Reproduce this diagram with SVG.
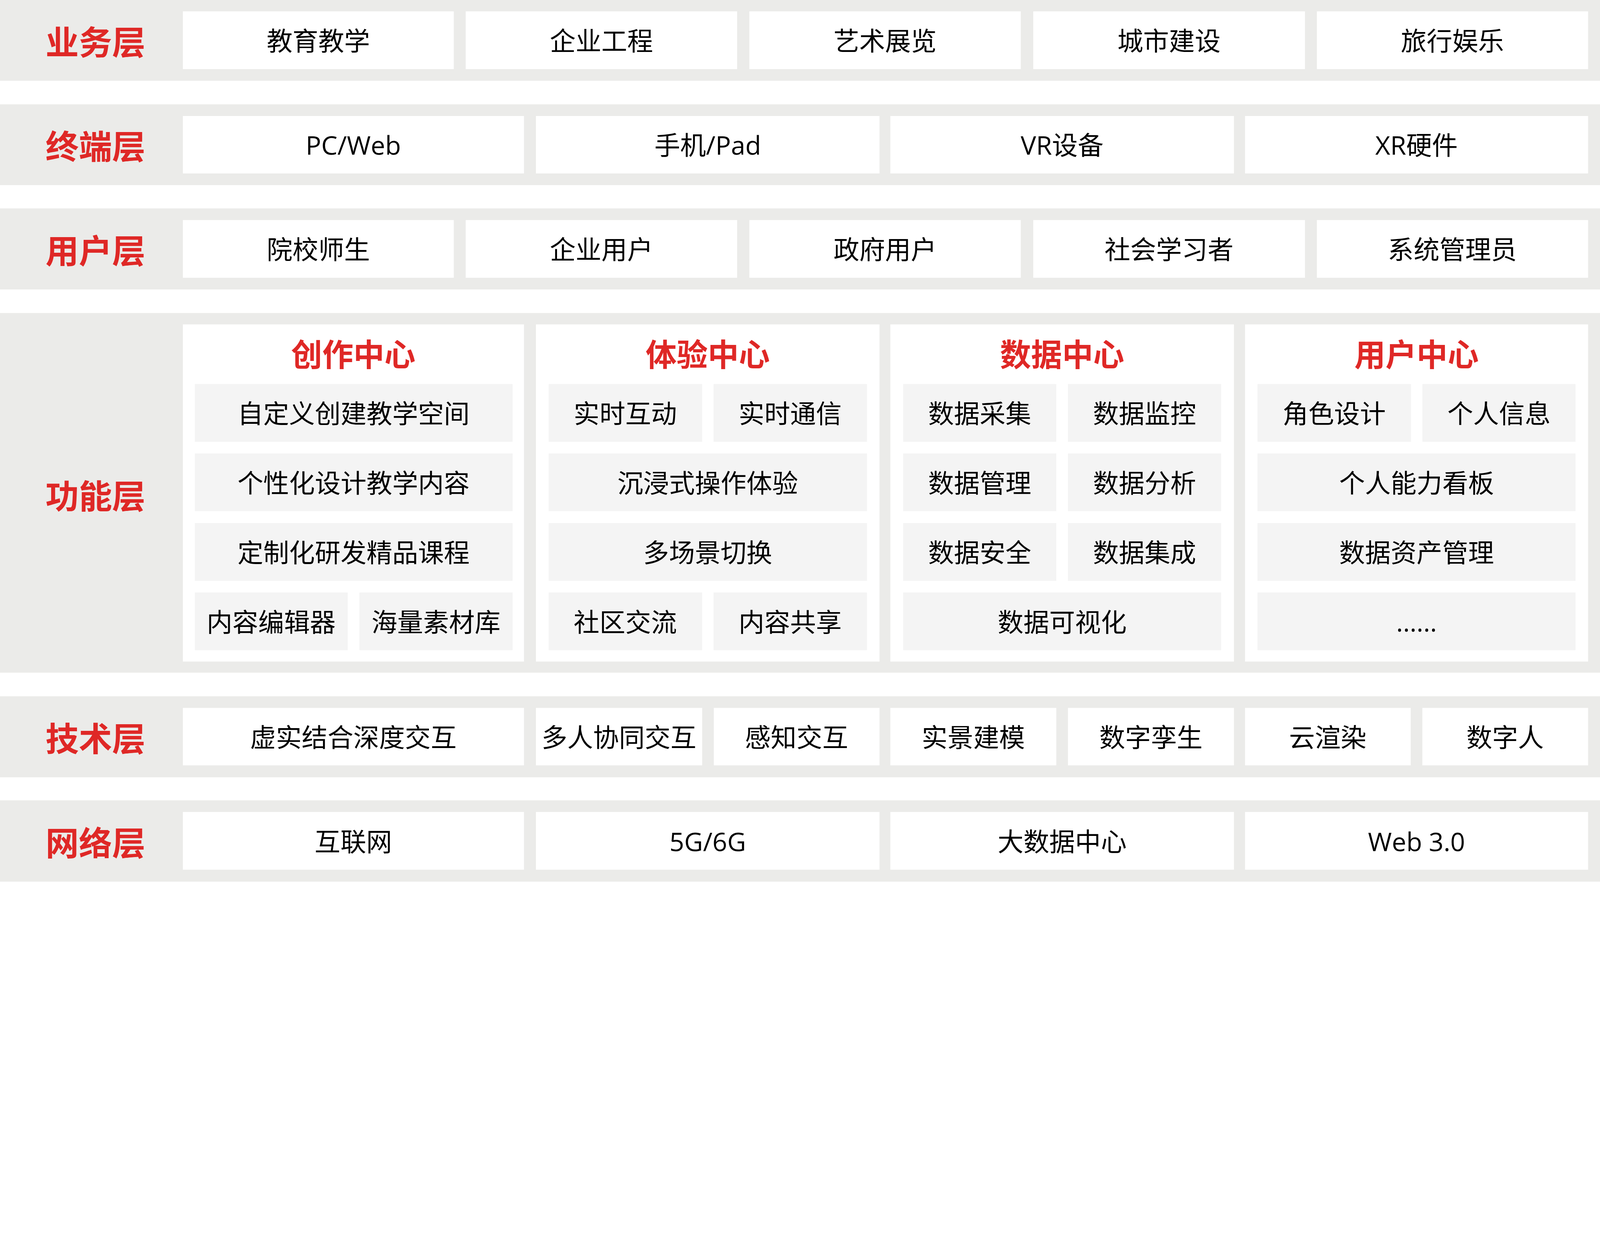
<svg xmlns="http://www.w3.org/2000/svg" width="5765" height="3177" viewBox="0 0 5765 3177" preserveAspectRatio="xMinYMin meet" style="display:block;width:100vw;height:calc(100vw * 3177 / 5765);max-width:5765px;max-height:3177px">
<style>
.band{fill:#EBEBE9}
.box{fill:#FFFFFF}
.sub{fill:#F4F4F4}
.lay{font-family:"Noto Sans CJK SC","Noto Sans",sans-serif;font-weight:700;font-size:120px;fill:#DF2826;text-anchor:middle;dominant-baseline:central}
.ttl{font-family:"Noto Sans CJK SC","Noto Sans",sans-serif;font-weight:700;font-size:112px;fill:#DF2826;text-anchor:middle;dominant-baseline:central}
.t{font-family:"Open Sans","Noto Sans CJK SC",sans-serif;font-size:93px;fill:#000000;text-anchor:middle;dominant-baseline:central}
</style>
<rect width="5765" height="3177" fill="#FFFFFF"/>
<g id="bands">
<rect class="band" x="0" y="0" width="5765" height="291"/>
<rect class="band" x="0" y="376" width="5765" height="291"/>
<rect class="band" x="0" y="751" width="5765" height="292"/>
<rect class="band" x="0" y="1128" width="5765" height="1296"/>
<rect class="band" x="0" y="2509" width="5765" height="292"/>
<rect class="band" x="0" y="2884" width="5765" height="293"/>
</g>
<g id="layer-labels">
<text class="lay" x="344" y="145">业务层</text>
<text class="lay" x="344" y="521">终端层</text>
<text class="lay" x="344" y="897">用户层</text>
<text class="lay" x="344" y="1780">功能层</text>
<text class="lay" x="344" y="2655">技术层</text>
<text class="lay" x="344" y="3030">网络层</text>
</g>
<g id="biz-1"><rect class="box" x="659" y="41" width="976" height="208"/><text class="t" x="1147" y="145">教育教学</text></g>
<g id="biz-2"><rect class="box" x="1678" y="41" width="978" height="208"/><text class="t" x="2167" y="145">企业工程</text></g>
<g id="biz-3"><rect class="box" x="2700" y="41" width="978" height="208"/><text class="t" x="3189" y="145">艺术展览</text></g>
<g id="biz-4"><rect class="box" x="3723" y="41" width="979" height="208"/><text class="t" x="4212" y="145">城市建设</text></g>
<g id="biz-5"><rect class="box" x="4745" y="41" width="977" height="208"/><text class="t" x="5233" y="145">旅行娱乐</text></g>
<g id="term-1"><rect class="box" x="659" y="418" width="1229" height="207"/><text class="t" x="1273" y="521">PC/Web</text></g>
<g id="term-2"><rect class="box" x="1931" y="418" width="1238" height="207"/><text class="t" x="2550" y="521">手机/Pad</text></g>
<g id="term-3"><rect class="box" x="3208" y="418" width="1238" height="207"/><text class="t" x="3827" y="521">VR设备</text></g>
<g id="term-4"><rect class="box" x="4486" y="418" width="1236" height="207"/><text class="t" x="5104" y="521">XR硬件</text></g>
<g id="user-1"><rect class="box" x="659" y="793" width="976" height="208"/><text class="t" x="1147" y="897">院校师生</text></g>
<g id="user-2"><rect class="box" x="1678" y="793" width="978" height="208"/><text class="t" x="2167" y="897">企业用户</text></g>
<g id="user-3"><rect class="box" x="2700" y="793" width="978" height="208"/><text class="t" x="3189" y="897">政府用户</text></g>
<g id="user-4"><rect class="box" x="3723" y="793" width="979" height="208"/><text class="t" x="4212" y="897">社会学习者</text></g>
<g id="user-5"><rect class="box" x="4745" y="793" width="977" height="208"/><text class="t" x="5233" y="897">系统管理员</text></g>
<g id="create-center">
<rect class="box" x="659" y="1169" width="1229" height="1215"/>
<text class="ttl" x="1273" y="1270">创作中心</text>
</g>
<g id="create-1"><rect class="sub" x="702" y="1384" width="1145" height="208"/><text class="t" x="1274" y="1488">自定义创建教学空间</text></g>
<g id="create-2"><rect class="sub" x="702" y="1634" width="1145" height="208"/><text class="t" x="1274" y="1738">个性化设计教学内容</text></g>
<g id="create-3"><rect class="sub" x="702" y="1885" width="1145" height="208"/><text class="t" x="1274" y="1989">定制化研发精品课程</text></g>
<g id="create-4"><rect class="sub" x="702" y="2135" width="551" height="208"/><text class="t" x="977" y="2239">内容编辑器</text></g>
<g id="create-5"><rect class="sub" x="1295" y="2135" width="552" height="208"/><text class="t" x="1571" y="2239">海量素材库</text></g>
<g id="exp-center">
<rect class="box" x="1931" y="1169" width="1238" height="1215"/>
<text class="ttl" x="2550" y="1270">体验中心</text>
</g>
<g id="exp-1"><rect class="sub" x="1977" y="1384" width="553" height="208"/><text class="t" x="2253" y="1488">实时互动</text></g>
<g id="exp-2"><rect class="sub" x="2571" y="1384" width="553" height="208"/><text class="t" x="2847" y="1488">实时通信</text></g>
<g id="exp-3"><rect class="sub" x="1977" y="1634" width="1147" height="208"/><text class="t" x="2550" y="1738">沉浸式操作体验</text></g>
<g id="exp-4"><rect class="sub" x="1977" y="1885" width="1147" height="208"/><text class="t" x="2550" y="1989">多场景切换</text></g>
<g id="exp-5"><rect class="sub" x="1977" y="2135" width="553" height="208"/><text class="t" x="2253" y="2239">社区交流</text></g>
<g id="exp-6"><rect class="sub" x="2571" y="2135" width="553" height="208"/><text class="t" x="2847" y="2239">内容共享</text></g>
<g id="data-center">
<rect class="box" x="3208" y="1169" width="1238" height="1215"/>
<text class="ttl" x="3827" y="1270">数据中心</text>
</g>
<g id="data-1"><rect class="sub" x="3254" y="1384" width="552" height="208"/><text class="t" x="3530" y="1488">数据采集</text></g>
<g id="data-2"><rect class="sub" x="3848" y="1384" width="552" height="208"/><text class="t" x="4124" y="1488">数据监控</text></g>
<g id="data-3"><rect class="sub" x="3254" y="1634" width="552" height="208"/><text class="t" x="3530" y="1738">数据管理</text></g>
<g id="data-4"><rect class="sub" x="3848" y="1634" width="552" height="208"/><text class="t" x="4124" y="1738">数据分析</text></g>
<g id="data-5"><rect class="sub" x="3254" y="1885" width="552" height="208"/><text class="t" x="3530" y="1989">数据安全</text></g>
<g id="data-6"><rect class="sub" x="3848" y="1885" width="552" height="208"/><text class="t" x="4124" y="1989">数据集成</text></g>
<g id="data-7"><rect class="sub" x="3254" y="2135" width="1146" height="208"/><text class="t" x="3827" y="2239">数据可视化</text></g>
<g id="user-center">
<rect class="box" x="4486" y="1169" width="1236" height="1215"/>
<text class="ttl" x="5104" y="1270">用户中心</text>
</g>
<g id="uc-1"><rect class="sub" x="4531" y="1384" width="553" height="208"/><text class="t" x="4807" y="1488">角色设计</text></g>
<g id="uc-2"><rect class="sub" x="5125" y="1384" width="552" height="208"/><text class="t" x="5401" y="1488">个人信息</text></g>
<g id="uc-3"><rect class="sub" x="4531" y="1634" width="1146" height="208"/><text class="t" x="5104" y="1738">个人能力看板</text></g>
<g id="uc-4"><rect class="sub" x="4531" y="1885" width="1146" height="208"/><text class="t" x="5104" y="1989">数据资产管理</text></g>
<g id="uc-5"><rect class="sub" x="4531" y="2135" width="1146" height="208"/><text class="t" x="5104" y="2239">......</text></g>
<g id="tech-1"><rect class="box" x="659" y="2551" width="1229" height="207"/><text class="t" x="1273" y="2655">虚实结合深度交互</text></g>
<g id="tech-2"><rect class="box" x="1931" y="2551" width="599" height="207"/><text class="t" x="2230" y="2655">多人协同交互</text></g>
<g id="tech-3"><rect class="box" x="2572" y="2551" width="597" height="207"/><text class="t" x="2870" y="2655">感知交互</text></g>
<g id="tech-4"><rect class="box" x="3208" y="2551" width="598" height="207"/><text class="t" x="3507" y="2655">实景建模</text></g>
<g id="tech-5"><rect class="box" x="3848" y="2551" width="598" height="207"/><text class="t" x="4147" y="2655">数字孪生</text></g>
<g id="tech-6"><rect class="box" x="4486" y="2551" width="597" height="207"/><text class="t" x="4784" y="2655">云渲染</text></g>
<g id="tech-7"><rect class="box" x="5125" y="2551" width="597" height="207"/><text class="t" x="5423" y="2655">数字人</text></g>
<g id="net-1"><rect class="box" x="659" y="2926" width="1229" height="208"/><text class="t" x="1273" y="3030">互联网</text></g>
<g id="net-2"><rect class="box" x="1931" y="2926" width="1238" height="208"/><text class="t" x="2550" y="3030">5G/6G</text></g>
<g id="net-3"><rect class="box" x="3208" y="2926" width="1238" height="208"/><text class="t" x="3827" y="3030">大数据中心</text></g>
<g id="net-4"><rect class="box" x="4486" y="2926" width="1236" height="208"/><text class="t" x="5104" y="3030">Web 3.0</text></g>
<g id="connectors"></g>
</svg>
